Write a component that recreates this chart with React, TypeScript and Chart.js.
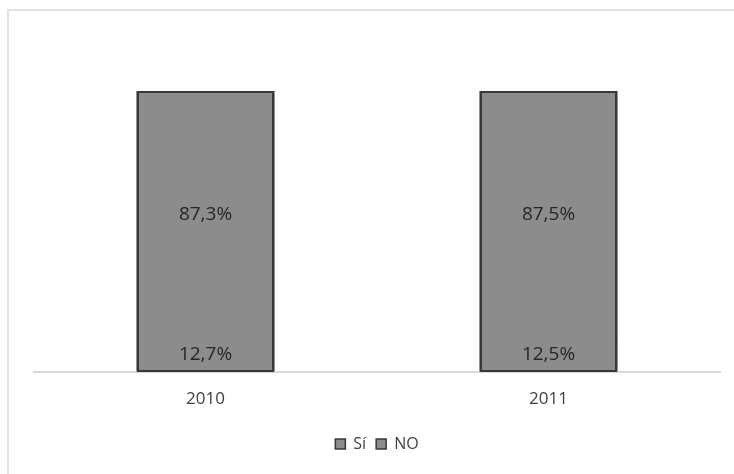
import React, { useEffect, useRef } from "react";
import { Chart, registerables } from "chart.js";

Chart.register(...registerables);

const categories = ["2010", "2011"];
const seriesNames = ["Sí", "NO"];
const siValues = [12.7, 12.5];
const noValues = [87.3, 87.5];

const FONT = "'Open Sans', 'DejaVu Sans', sans-serif";
const BAR_FILL = "#8c8c8c";
const BAR_EDGE = "#383838";
const EDGE_W = 2;

const outlineAndLabels = {
  id: "outlineAndLabels",
  afterDatasetsDraw(chart: any) {
    const ctx = chart.ctx;
    ctx.save();
    // one outline around each stacked column (from the bottom segment base to the top segment top)
    const lower = chart.getDatasetMeta(0);
    const upper = chart.getDatasetMeta(1);
    lower.data.forEach((el: any, i: number) => {
      const a = el.getProps(["x", "width", "base"], true);
      const b = upper.data[i].getProps(["y"], true);
      const left = Math.round(a.x - a.width / 2);
      const right = Math.round(a.x + a.width / 2);
      const top = Math.round(b.y);
      const bottom = Math.round(a.base);
      ctx.strokeStyle = BAR_EDGE;
      ctx.lineWidth = EDGE_W;
      ctx.strokeRect(left + EDGE_W / 2, top + EDGE_W / 2, right - left - EDGE_W, bottom - top - EDGE_W);
    });
    ctx.font = `19px ${FONT}`;
    ctx.fillStyle = "#262626";
    ctx.textAlign = "center";
    ctx.textBaseline = "middle";
    chart.data.datasets.forEach((ds: any, di: number) => {
      const meta = chart.getDatasetMeta(di);
      meta.data.forEach((el: any, i: number) => {
        const p = el.getCenterPoint();
        const v = ds.data[i];
        ctx.fillText(v.toFixed(1).replace(".", ",") + "%", p.x, p.y + 1);
      });
    });
    ctx.restore();
  },
};

export default function App() {
  const ref = useRef<HTMLCanvasElement | null>(null);
  useEffect(() => {
    if (!ref.current) return;
    const common = {
      backgroundColor: BAR_FILL,
      borderWidth: 0,
      inflateAmount: 0.5,
      barPercentage: 1,
      categoryPercentage: 0.402,
    };
    const chart = new Chart(ref.current, {
      type: "bar",
      data: {
        labels: categories,
        datasets: [
          { ...common, label: seriesNames[0], data: siValues },
          { ...common, label: seriesNames[1], data: noValues },
        ],
      },
      options: {
        animation: false,
        responsive: false,
        devicePixelRatio: 1,
        layout: { padding: { left: 34, right: 14, top: 91, bottom: 12 } },
        scales: {
          x: {
            stacked: true,
            grid: { display: false, drawTicks: false },
            border: { display: true, color: "#d9d9d9", width: 2 },
            ticks: { color: "#404040", font: { family: FONT, size: 17 }, padding: 17 },
          },
          y: { stacked: true, display: false, min: 0, max: 100 },
        },
        plugins: {
          tooltip: { enabled: false },
          legend: {
            position: "bottom",
            labels: {
              color: "#404040",
              font: { family: FONT, size: 16 },
              boxWidth: 10,
              boxHeight: 10,
              padding: 10,
              generateLabels: (c: any) =>
                c.data.datasets.map((ds: any, i: number) => ({
                  text: ds.label,
                  fillStyle: BAR_FILL,
                  strokeStyle: BAR_EDGE,
                  lineWidth: 1.5,
                  fontColor: "#404040",
                  datasetIndex: i,
                  hidden: false,
                })),
            },
          },
        },
      },
      plugins: [outlineAndLabels],
    });
    return () => chart.destroy();
  }, []);

  return (
    <div style={{ position: "fixed", left: 0, top: 0, width: 734, height: 474, background: "#fff", overflow: "hidden" }}>
      <div
        style={{
          position: "absolute",
          left: 7,
          top: 9,
          width: 760,
          height: 500,
          border: "2px solid #e2e2e2",
          boxSizing: "border-box",
        }}
      />
      <canvas ref={ref} width={734} height={474} style={{ position: "absolute", left: 0, top: 0, width: 734, height: 474 }} />
    </div>
  );
}
